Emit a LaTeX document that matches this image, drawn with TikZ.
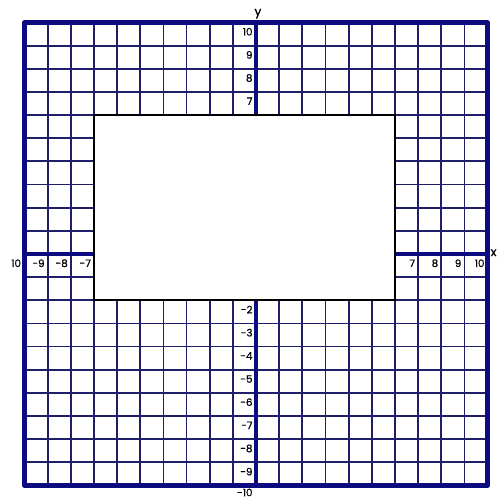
\documentclass[tikz,border=0pt]{standalone}
\usepackage{fontspec}
\setmainfont{Poppins}
\newfontfamily\lblfont[FakeBold=0.8]{Poppins}
\definecolor{gridc}{RGB}{30,30,105}
\definecolor{axisc}{RGB}{12,12,128}
\tikzset{
  gridline/.style={draw=gridc,line width=1.1pt},
  axisline/.style={draw=axisc,line width=2.5pt},
  borderline/.style={draw=axisc,line width=2.6pt,line join=round},
  lbl/.style={inner sep=0pt,font=\lblfont\fontsize{6.3}{7}\selectfont,text=black},
  hole/.style={fill=white,draw=black,line width=1pt}
}
\begin{document}
\begin{tikzpicture}[x=0.5cm,y=0.5cm]
\useasboundingbox (-11.06,-10.54) rectangle (10.45,10.97);
% grid
\foreach \k in {-9,...,9}{
  \draw[gridline] (\k,-10) -- (\k,10);
  \draw[gridline] (-10,\k) -- (10,\k);
}
% axes
\draw[axisline] (-10,0) -- (10,0);
\draw[axisline] (0,-10) -- (0,10);
% border
\draw[borderline] (-10,-10) rectangle (10,10);
% white rectangle
\path[hole] (-7,-2) rectangle (6,6);
% y labels
\foreach \k in {10,9,8,7,-2,-3,-4,-5,-6,-7,-8,-9}{
  \node[lbl,anchor=east] (ly\k) at (-0.14,\k-0.4) {\k};
}
\node[lbl,anchor=east] (lym10) at (-0.14,-10.3) {-10};
% x labels
\node[lbl,anchor=east] (lxm10) at (-10.14,-0.4) {10};
\foreach \k in {-9,-8,-7,7,8,9,10}{
  \node[lbl,anchor=east] (lx\k) at (\k-0.12,-0.4) {\k};
}
\node[lbl,anchor=west,font=\lblfont\fontsize{7.5}{8}\selectfont] (xl) at (10.12,0.05) {x};
\node[lbl,anchor=south,font=\lblfont\fontsize{7.5}{8}\selectfont] (yl) at (0.08,10.15) {y};
\end{tikzpicture}
\end{document}
